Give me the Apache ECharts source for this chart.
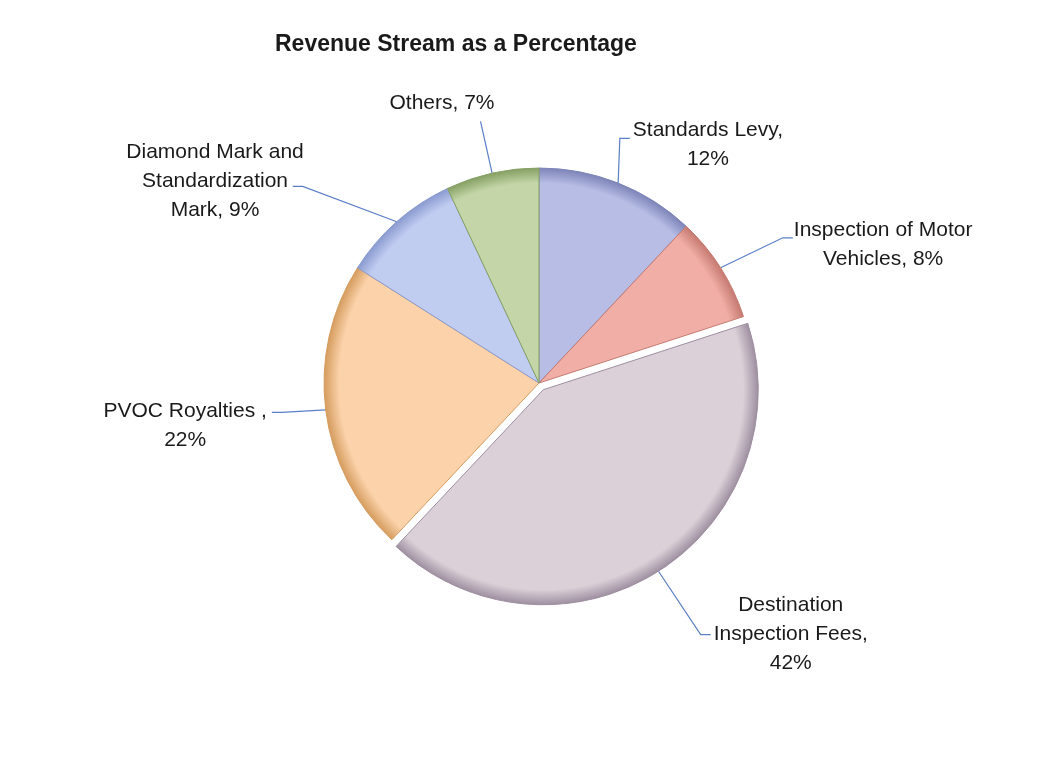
<!DOCTYPE html>
<html>
<head>
<meta charset="utf-8">
<title>Revenue Stream as a Percentage</title>
<script src="https://cdn.jsdelivr.net/npm/echarts@6/dist/echarts.min.js"></script>
<style>
  html, body { margin: 0; padding: 0; background: #fff; }
  #container { width: 1059px; height: 759px; }
</style>
</head>
<body>
<div id="container"></div>
<script>
// data
var categories = [
  'Standards Levy,\n12%',
  'Inspection of Motor\nVehicles, 8%',
  'Destination\nInspection Fees,\n42%',
  'PVOC Royalties ,\n22%',
  'Diamond Mark and\nStandardization\nMark, 9%',
  'Others, 7%'
];
var values = [12, 8, 42, 22, 9, 7];
var exploded = 2; // Destination Inspection Fees is pulled out

// look of each slice and label
var baseColors = ['#b8bde5', '#f1aea6', '#dbd0d8', '#fbd2aa', '#c1ccf1', '#c4d6a8'];
var edgeColors = ['#7d84b8', '#c57a70', '#9e8fa0', '#d59c5e', '#8a9bd0', '#86a064'];
var lineLen = [48, 56, 75, 20, 47, 53];
var lineLen2 = [1, 25, 12, 34, 73, 0];
var labelPlace = ['side', 'side', 'side', 'side', 'side', 'above'];
var labelShiftX = [-9, -4, -2, 0, 16, 0];
var labelShiftY = [6, 7, 0, 13, -5, 0];
var trimLine = [true, false, false, false, false, false];

var cx = 539, cy = 383, r = 215, explodeOffset = 8, stub = 10;

var myChart = echarts.init(document.getElementById('container'));

// centre of the pulled-out slice
var total = 0, before = 0;
for (var i = 0; i < values.length; i++) {
  total += values[i];
  if (i < exploded) before += values[i];
}
var midAngle = (before + values[exploded] / 2) / total * 2 * Math.PI;
var ex = cx + explodeOffset * Math.sin(midAngle);
var ey = cy - explodeOffset * Math.cos(midAngle);

function sliceColor(i, x, y) {
  return {
    type: 'radial', x: x, y: y, r: r, global: true,
    colorStops: [
      { offset: 0, color: baseColors[i] },
      { offset: 0.93, color: baseColors[i] },
      { offset: 1, color: edgeColors[i] }
    ]
  };
}

function buildData(showExploded) {
  var list = [];
  for (var i = 0; i < values.length; i++) {
    var visible = (i == exploded) == showExploded;
    var item = { name: categories[i], value: values[i] };
    if (visible) {
      item.itemStyle = {
        color: showExploded ? sliceColor(i, ex, ey) : sliceColor(i, cx, cy),
        borderColor: edgeColors[i],
        borderWidth: 1
      };
      item.labelLine = { length: lineLen[i], length2: lineLen2[i] };
    } else {
      item.itemStyle = { color: 'transparent', borderWidth: 0 };
      item.label = { show: false };
      item.labelLine = { show: false };
    }
    list.push(item);
  }
  return list;
}

function layoutLabel(p) {
  var pts = p.labelLinePoints;
  if (!pts) return {};
  var i = p.dataIndex;
  var p0 = pts[0];
  var end = pts[pts.length - 1];
  var w = p.labelRect.width, h = p.labelRect.height;
  if (labelPlace[i] == 'above') {
    return {
      x: end[0] - w / 2 + 14,
      y: end[1] - h / 2 - 4,
      align: 'center',
      verticalAlign: 'middle',
      labelLinePoints: [p0, end, end]
    };
  }
  var dir = end[0] > p0[0] ? 1 : -1;
  var x = end[0] + dir * (5 + w / 2) + labelShiftX[i];
  var endX = end[0];
  if (trimLine[i]) {
    var edge = x - dir * (w / 2 + 3);
    endX = dir > 0 ? Math.min(endX, edge) : Math.max(endX, edge);
  }
  return {
    x: x,
    y: end[1] + labelShiftY[i],
    align: 'center',
    verticalAlign: 'middle',
    labelLinePoints: [p0, [endX - dir * stub, end[1]], [endX, end[1]]]
  };
}

function pieSeries(center, showExploded) {
  return {
    type: 'pie',
    center: center,
    radius: r,
    startAngle: 90,
    clockwise: true,
    avoidLabelOverlap: false,
    silent: true,
    data: buildData(showExploded),
    label: {
      show: true,
      position: 'outside',
      color: '#1a1a1a',
      fontFamily: 'Liberation Sans',
      fontSize: 21,
      lineHeight: 29,
      formatter: '{b}'
    },
    labelLine: {
      show: true,
      smooth: false,
      lineStyle: { color: '#5a7fc6', width: 1.2 }
    },
    labelLayout: layoutLabel,
    emphasis: { disabled: true }
  };
}

var option = {
  animation: false,
  title: {
    text: 'Revenue Stream as a Percentage',
    left: 270,
    top: 28,
    textStyle: {
      color: '#1a1a1a',
      fontFamily: 'Liberation Sans',
      fontWeight: 'bold',
      fontSize: 23
    }
  },
  series: [
    pieSeries([cx, cy], false),
    pieSeries([ex, ey], true)
  ]
};

myChart.setOption(option);
</script>
</body>
</html>
